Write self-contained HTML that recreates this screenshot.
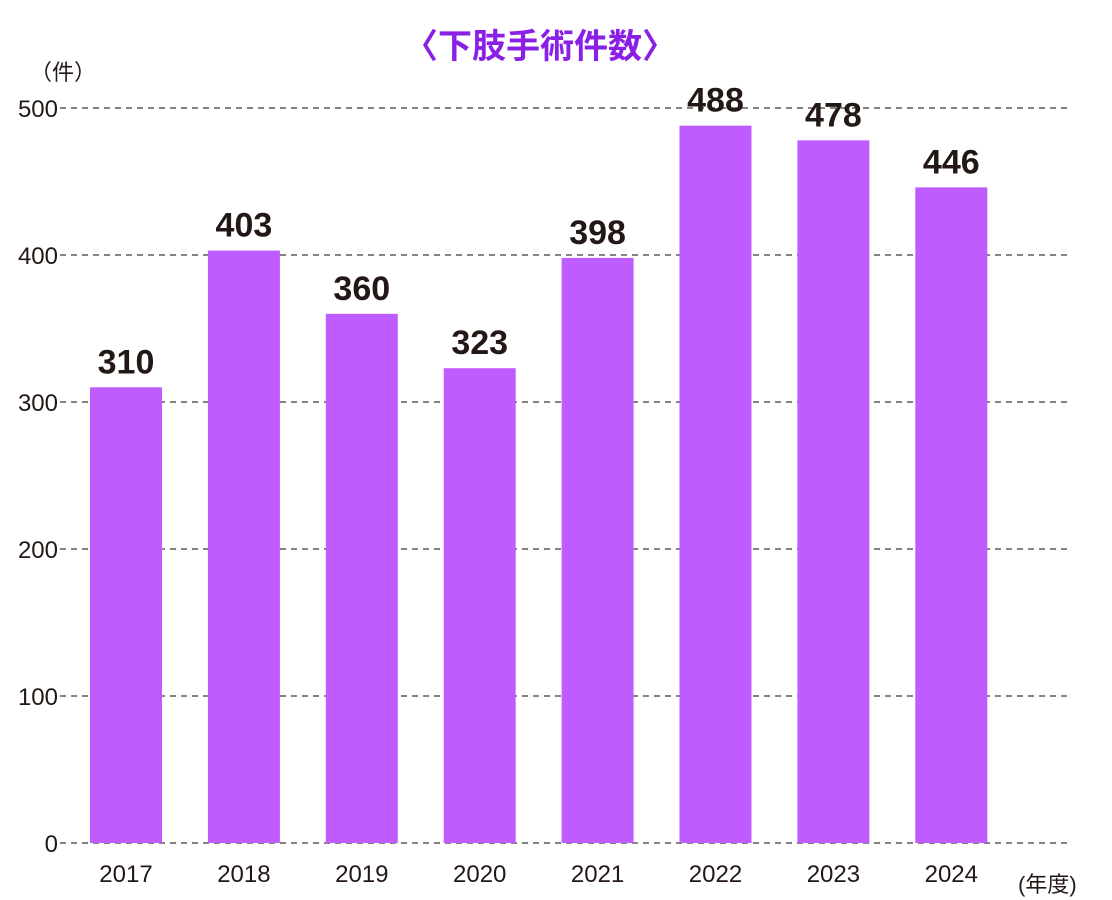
<!DOCTYPE html>
<html><head><meta charset="utf-8"><style>
body{margin:0;background:#fff;}
svg{display:block;font-family:"Liberation Sans","Noto Sans CJK JP",sans-serif;}
</style></head><body>
<svg id="chart" width="1112" height="900" viewBox="0 0 1112 900">
<text x="540" y="58" text-anchor="middle" font-size="34" font-weight="bold" fill="#8a1fe6">〈下肢手術件数〉</text>
<text x="30" y="80" font-size="22" fill="#231815">（件）</text>
<text x="1018" y="892" font-size="22" fill="#231815">(年度)</text>
<g id="grid"></g><g id="bars"></g>
</svg>
<script>
const categories=["2017","2018","2019","2020","2021","2022","2023","2024"];
const values=[310,403,360,323,398,488,478,446];
const yTicks=[0,100,200,300,400,500];
const NS="http://www.w3.org/2000/svg";
function y(v){return 843-v*1.47;}
function x(i){return 90+i*117.9;}
const bw=72;
const grid=document.getElementById('grid'),bars=document.getElementById('bars');
function mk(t,a,p){const e=document.createElementNS(NS,t);for(const k in a)e.setAttribute(k,a[k]);p.appendChild(e);return e;}
yTicks.forEach(t=>{
 const l=mk('line',{x1:60,x2:1072,y1:y(t),y2:y(t),stroke:'#3a3a3a','stroke-width':1.3,'stroke-dasharray':'6 5'},grid);
 
 
 const tx=mk('text',{x:58,y:y(t)+9,'text-anchor':'end','font-size':24,fill:'#231815'},grid);
 tx.textContent=t;
 
 
});
categories.forEach((c,i)=>{
 const r=mk('rect',{x:x(i),y:y(values[i]),width:bw,height:843-y(values[i]),fill:'#bf5cff'},bars);
 
 
 const v=mk('text',{x:x(i)+bw/2,y:y(values[i])-14,'text-anchor':'middle','font-size':34,'font-weight':'bold',fill:'#231815'},bars);
 v.textContent=values[i];
 
 
 const l=mk('text',{x:x(i)+bw/2,y:882,'text-anchor':'middle','font-size':24,fill:'#231815'},bars);
 l.textContent=c;
 
 
});
</script>
</body></html>
